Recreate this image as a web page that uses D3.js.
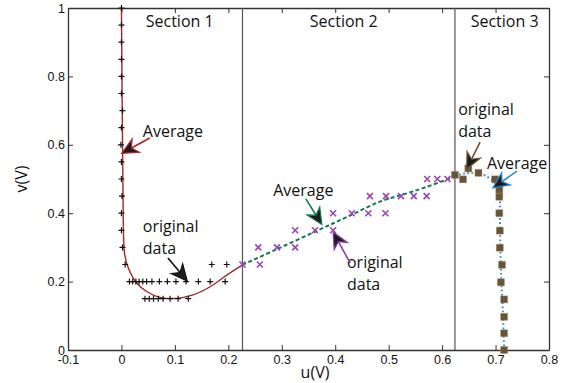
<!DOCTYPE html>
<html><head><meta charset="utf-8">
<script src="https://cdn.jsdelivr.net/npm/d3@7"></script>
<style>
body{margin:0;background:#fff;}
svg{display:block;font-family:"Open Sans",sans-serif;}
</style></head><body>
<svg id="chart" width="571" height="383"></svg>
<script>
// Axes
const xTickValues = [-0.1,0,0.1,0.2,0.3,0.4,0.5,0.6,0.7,0.8];
const xTickLabels = ["-0.1","0","0.1","0.2","0.3","0.4","0.5","0.6","0.7","0.8"];
const yTickValues = [0,0.2,0.4,0.6,0.8,1];
const yTickLabels = ["0","0.2","0.4","0.6","0.8","1"];

// Sections
const sectionNames = ["Section 1","Section 2","Section 3"];
const sectionLabelU = [0.109,0.416,0.717];
const sectionBounds = [0.2265,0.624];

// Section 1: measured points (u, v) and averaged trace
const s1U = [0,0,0,0,0,0,0.002,0,-0.001,0,0,0.001,0,0,0.002,
             0.007,0.169,0.197,
             0.015,0.021,0.027,0.033,0.040,0.047,0.057,0.071,0.086,0.102,0.121,0.144,0.166,0.194,
             0.044,0.052,0.060,0.069,0.078,0.091,0.106,0.125];
const s1V = [1.0,0.95,0.9,0.85,0.8,0.75,0.7,0.65,0.6,0.55,0.5,0.45,0.4,0.35,0.3,
             0.25,0.25,0.25,
             0.2,0.2,0.2,0.2,0.2,0.2,0.2,0.2,0.2,0.2,0.2,0.2,0.2,0.2,
             0.15,0.15,0.15,0.15,0.15,0.15,0.15,0.15];
const avg1U = [0,0.001,0.002,0.003,0.004,0.006,0.013,0.029,0.047,0.072,0.103,0.134,0.166,0.197,0.2265];
const avg1V = [1.0,0.8,0.6,0.45,0.33,0.28,0.239,0.195,0.171,0.154,0.151,0.161,0.185,0.219,0.249];

// Section 2
const s2U = [0.2265,0.256,0.259,0.291,0.325,0.325,0.362,0.396,0.396,0.431,0.462,0.494,0.465,0.495,0.523,0.547,0.571,0.572,0.591,0.610];
const s2V = [0.25,0.30,0.25,0.30,0.30,0.35,0.35,0.35,0.40,0.40,0.40,0.40,0.45,0.45,0.45,0.45,0.45,0.50,0.50,0.50];
const avg2U = [0.2265,0.291,0.365,0.422,0.484,0.534,0.571,0.609,0.624];
const avg2V = [0.249,0.295,0.348,0.389,0.434,0.458,0.477,0.499,0.510];

// Section 3
const s3U = [0.624,0.639,0.649,0.668,0.699,0.707,0.707,0.707,0.708,0.708,0.712,0.710,0.716,0.716,0.716,0.716];
const s3V = [0.512,0.499,0.531,0.518,0.499,0.468,0.448,0.40,0.349,0.299,0.249,0.198,0.148,0.097,0.049,0.0];
const avg3U = [0.624,0.643,0.665,0.684,0.699,0.707,0.708,0.709,0.711,0.714,0.716];
const avg3V = [0.510,0.516,0.518,0.507,0.488,0.463,0.40,0.30,0.20,0.10,0.0];

// Callouts: text anchor and arrow (from -> tip), in data units
const callouts = [
  {lines:["Average"], u:0.040, v:0.623, from:[0.053,0.620], tip:[0.0005,0.575], color:"#a3262a"},
  {lines:["original","data"], u:0.040, v:0.345, from:[0.087,0.269], tip:[0.123,0.202], color:"#111111"},
  {lines:["Average"], u:0.284, v:0.450, from:[0.345,0.442], tip:[0.375,0.367], color:"#0f7a4e"},
  {lines:["original","data"], u:0.422, v:0.240, from:[0.428,0.254], tip:[0.396,0.345], color:"#8f3aa8"},
  {lines:["original","data"], u:0.630, v:0.687, from:[0.671,0.608], tip:[0.646,0.529], color:"#6b5434"},
  {lines:["Average"], u:0.684, v:0.529, from:[0.740,0.523], tip:[0.695,0.474], color:"#2a86d6"}
];

const W = 571, H = 383;
const m = {left:68, right:22, top:8, bottom:33};
const svg = d3.select("#chart");
const x = d3.scaleLinear().domain([-0.1,0.8]).range([m.left, W-m.right]);
const y = d3.scaleLinear().domain([0,1]).range([H-m.bottom, m.top]);
const axisColor = "#333";

// Frame with inward ticks on all sides
const tick = -5;
function styleAxis(g){
  g.select(".domain").attr("stroke",axisColor).attr("stroke-width",1.3);
  g.selectAll(".tick line").attr("stroke",axisColor).attr("stroke-width",1);
  g.selectAll(".tick text").attr("fill","#111").attr("font-size",12.5);
}
svg.append("g").attr("transform",`translate(0,${y(0)})`)
  .call(d3.axisBottom(x).tickValues(xTickValues).tickSizeInner(tick).tickSizeOuter(0).tickPadding(5)
        .tickFormat((d,i)=>xTickLabels[i])).call(styleAxis);
svg.append("g").attr("transform",`translate(0,${y(1)})`)
  .call(d3.axisTop(x).tickValues(xTickValues).tickSizeInner(tick).tickSizeOuter(0).tickFormat(""))
  .call(styleAxis);
svg.append("g").attr("transform",`translate(${x(-0.1)},0)`)
  .call(d3.axisLeft(y).tickValues(yTickValues).tickSizeInner(tick).tickSizeOuter(0).tickPadding(3)
        .tickFormat((d,i)=>yTickLabels[i])).call(styleAxis);
svg.append("g").attr("transform",`translate(${x(0.8)},0)`)
  .call(d3.axisRight(y).tickValues(yTickValues).tickSizeInner(tick).tickSizeOuter(0).tickFormat(""))
  .call(styleAxis);

// Axis titles
svg.append("text").attr("x",315).attr("y",378).attr("text-anchor","middle")
  .attr("font-size",16).attr("fill","#111").text("u(V)");
svg.append("text").attr("transform",`translate(27,${(y(0)+y(1))/2}) rotate(-90)`)
  .attr("text-anchor","middle").attr("font-size",16).attr("fill","#111").text("v(V)");

// Section dividers and labels
svg.selectAll(".divider").data(sectionBounds).enter().append("line")
  .attr("x1",d=>x(d)).attr("x2",d=>x(d)).attr("y1",y(0)).attr("y2",y(1))
  .attr("stroke","#555").attr("stroke-width",1.2);
svg.selectAll(".section").data(sectionNames).enter().append("text")
  .attr("x",(d,i)=>x(sectionLabelU[i])).attr("y",y(0.944)).attr("text-anchor","middle")
  .attr("font-size",16).attr("fill","#111").text(d=>d);

const zip = (U,V)=>U.map((u,i)=>[u,V[i]]);
const line = d3.line().x(d=>x(d[0])).y(d=>y(d[1])).curve(d3.curveCatmullRom.alpha(0.5));

// Section 1
svg.append("path").datum(zip(avg1U,avg1V)).attr("d",line)
  .attr("fill","none").attr("stroke","#a3262a").attr("stroke-width",1.4);
svg.append("g").selectAll("path").data(zip(s1U,s1V)).enter().append("path")
  .attr("d",d=>{const cx=x(d[0]),cy=y(d[1]),r=3;return `M${cx-r},${cy}H${cx+r}M${cx},${cy-r}V${cy+r}`;})
  .attr("stroke","#111").attr("stroke-width",1.2);

// Section 2
svg.append("path").datum(zip(avg2U,avg2V)).attr("d",line)
  .attr("fill","none").attr("stroke","#0f7a4e").attr("stroke-width",2).attr("stroke-dasharray","4,2.5");
svg.append("g").selectAll("path").data(zip(s2U,s2V)).enter().append("path")
  .attr("d",d=>{const cx=x(d[0]),cy=y(d[1]),r=3;return `M${cx-r},${cy-r}L${cx+r},${cy+r}M${cx-r},${cy+r}L${cx+r},${cy-r}`;})
  .attr("stroke","#9b45b3").attr("stroke-width",1.6);

// Section 3
svg.append("path").datum(zip(avg3U,avg3V)).attr("d",line)
  .attr("fill","none").attr("stroke","#2a86d6").attr("stroke-width",2).attr("stroke-dasharray","1.6,2.6");
svg.append("g").selectAll("rect").data(zip(s3U,s3V)).enter().append("rect")
  .attr("x",d=>x(d[0])-3.5).attr("y",d=>y(d[1])-3.5).attr("width",7).attr("height",7)
  .attr("fill","#6b5434").attr("stroke","#9c8d72").attr("stroke-width",0.8).attr("stroke-dasharray","1,1");

// Callouts
callouts.forEach(c=>{
  const t = svg.append("text").attr("x",x(c.u)).attr("y",y(c.v)).attr("font-size",16).attr("fill","#111");
  c.lines.forEach((s,i)=>t.append("tspan").attr("x",x(c.u)).attr("dy",i?22:0).text(s));
  const x0=x(c.from[0]), y0=y(c.from[1]), x1=x(c.tip[0]), y1=y(c.tip[1]);
  const dx=x1-x0, dy=y1-y0, L=Math.hypot(dx,dy), ux=dx/L, uy=dy/L, px=-uy, py=ux;
  const hl=16, hw=7.5, notch=5;
  const bx=x1-ux*hl, by=y1-uy*hl;
  svg.append("line").attr("x1",x0).attr("y1",y0).attr("x2",x1-ux*notch).attr("y2",y1-uy*notch)
    .attr("stroke",c.color).attr("stroke-width",1.6);
  const head = [[x1,y1],[bx+px*hw,by+py*hw],[x1-ux*(hl-notch),y1-uy*(hl-notch)],[bx-px*hw,by-py*hw]];
  svg.append("path").attr("d","M"+head.map(p=>p.join(",")).join("L")+"Z")
    .attr("fill","#1d1d1d").attr("stroke",c.color).attr("stroke-width",1.2).attr("stroke-linejoin","miter");
});
</script>
</body></html>
